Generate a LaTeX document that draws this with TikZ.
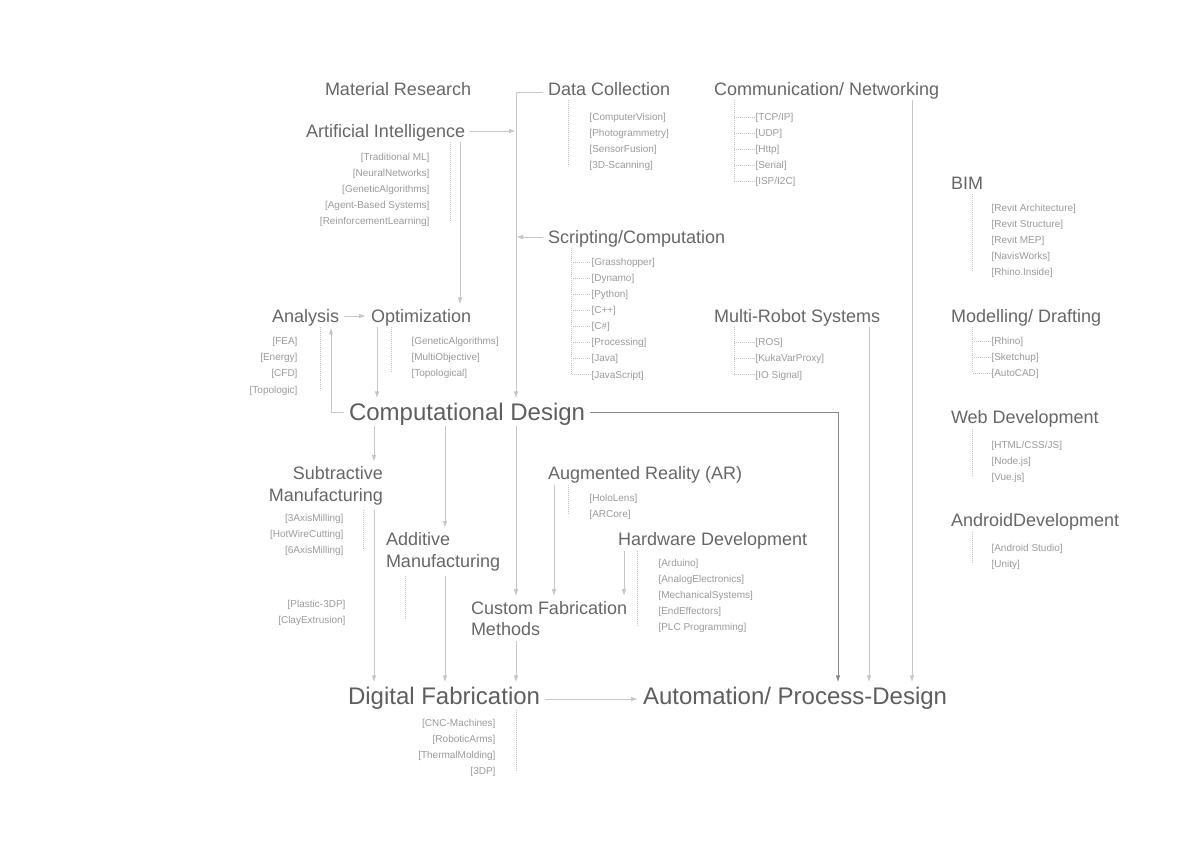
\documentclass[tikz,border=0pt]{standalone}
\usepackage{fontspec}
\setmainfont{Liberation Sans}
\usetikzlibrary{arrows.meta}

\definecolor{topicgray}{HTML}{666666}
\definecolor{hubgray}{HTML}{5E5E5E}
\definecolor{toolgray}{HTML}{9A9A9A}
\definecolor{linegray}{HTML}{C6C6C6}
\definecolor{darkline}{HTML}{8A8A8A}
\definecolor{railgray}{HTML}{C4C4C4}

\begin{document}
\begin{tikzpicture}[x=1pt, y=-1pt,
    topic/.style={font=\fontsize{18}{21.5}\selectfont, text=topicgray, inner sep=0pt, outer sep=5pt},
    head/.style={topic, text height=13pt, text depth=0pt},
    hub/.style={font=\fontsize{24}{28}\selectfont, text=hubgray, inner sep=0pt, outer sep=5pt, text height=17.2pt, text depth=0pt},
    tool/.style={font=\fontsize{10}{12}\selectfont, text=toolgray, inner sep=0pt, outer sep=0.5pt, text height=9.5pt, text depth=1.5pt},
    arrow/.style={-{Latex[length=7pt, width=4.5pt]}, line width=0.9pt, draw=linegray},
    rail/.style={dash pattern=on 1pt off 1pt, line width=0.6pt, draw=railgray}
]
\useasboundingbox (0,0) rectangle (1192,842);

% Topics
\node[head, anchor=west] (matres)     at (320,89)  {Material Research};
\node[head, anchor=west] (datacol)    at (543,89)  {Data Collection};
\node[head, anchor=west] (comm)       at (709,89)  {Communication/ Networking};
\node[head, anchor=west] (ai)         at (301,131) {Artificial Intelligence};
\node[head, anchor=west] (bim)        at (946,183) {BIM};
\node[head, anchor=west] (script)     at (543,237) {Scripting/Computation};
\node[head, anchor=west] (analysis)   at (267,316) {Analysis};
\node[head, anchor=west] (optim)      at (366,316) {Optimization};
\node[head, anchor=west] (multirobot) at (709,316) {Multi-Robot Systems};
\node[head, anchor=west] (modelling)  at (946,316) {Modelling/ Drafting};
\node[head, anchor=west] (web)        at (946,417) {Web Development};
\node[head, anchor=west] (android)    at (946,520) {AndroidDevelopment};
\node[head, anchor=west] (ar)         at (543,473) {Augmented Reality (AR)};
\node[head, anchor=west] (hw)         at (613,539) {Hardware Development};
\node[topic, anchor=east, align=right] (subtr)     at (388,486)   {Subtractive\\Manufacturing};
\node[topic, anchor=west, align=left]  (additive)  at (381,552)   {Additive\\Manufacturing};
\node[topic, anchor=west, align=left]  (customfab) at (466,618.5) {Custom Fabrication\\Methods};

% Hubs
\node[hub, anchor=west] (cd)     at (344,412) {Computational Design};
\node[hub, anchor=west] (digfab) at (343,696) {Digital Fabrication};
\node[hub, anchor=west] (auto)   at (638,696) {Automation/ Process-Design};

% Tools under each topic
\node[tool, anchor=east] (ai1) at (430,157) {[Traditional ML]};
\node[tool, anchor=east] (ai2) at (430,173) {[NeuralNetworks]};
\node[tool, anchor=east] (ai3) at (430,189) {[GeneticAlgorithms]};
\node[tool, anchor=east] (ai4) at (430,205) {[Agent-Based Systems]};
\node[tool, anchor=east] (ai5) at (430,221) {[ReinforcementLearning]};

\node[tool, anchor=west] (dc1) at (589,117) {[ComputerVision]};
\node[tool, anchor=west] (dc2) at (589,133) {[Photogrammetry]};
\node[tool, anchor=west] (dc3) at (589,149) {[SensorFusion]};
\node[tool, anchor=west] (dc4) at (589,165) {[3D-Scanning]};

\node[tool, anchor=west] (com1) at (755,117) {[TCP/IP]};
\node[tool, anchor=west] (com2) at (755,133) {[UDP]};
\node[tool, anchor=west] (com3) at (755,149) {[Http]};
\node[tool, anchor=west] (com4) at (755,165) {[Serial]};
\node[tool, anchor=west] (com5) at (755,181) {[ISP/I2C]};

\node[tool, anchor=west] (sc1) at (591,262) {[Grasshopper]};
\node[tool, anchor=west] (sc2) at (591,278) {[Dynamo]};
\node[tool, anchor=west] (sc3) at (591,294) {[Python]};
\node[tool, anchor=west] (sc4) at (591,310) {[C++]};
\node[tool, anchor=west] (sc5) at (591,326) {[C\#]};
\node[tool, anchor=west] (sc6) at (591,342) {[Processing]};
\node[tool, anchor=west] (sc7) at (591,358) {[Java]};
\node[tool, anchor=west] (sc8) at (591,374) {[JavaScript]};

\node[tool, anchor=west] (bim1) at (991,208) {[Revit Architecture]};
\node[tool, anchor=west] (bim2) at (991,224) {[Revit Structure]};
\node[tool, anchor=west] (bim3) at (991,240) {[Revit MEP]};
\node[tool, anchor=west] (bim4) at (991,256) {[NavisWorks]};
\node[tool, anchor=west] (bim5) at (991,272) {[Rhino.Inside]};

\node[tool, anchor=west] (mod1) at (991,341) {[Rhino]};
\node[tool, anchor=west] (mod2) at (991,357) {[Sketchup]};
\node[tool, anchor=west] (mod3) at (991,373) {[AutoCAD]};

\node[tool, anchor=west] (web1) at (991,444) {[HTML/CSS/JS]};
\node[tool, anchor=west] (web2) at (991,460) {[Node.js]};
\node[tool, anchor=west] (web3) at (991,476) {[Vue.js]};

\node[tool, anchor=west] (and1) at (991,547) {[Android Studio]};
\node[tool, anchor=west] (and2) at (991,563) {[Unity]};

\node[tool, anchor=east] (an1) at (298,341) {[FEA]};
\node[tool, anchor=east] (an2) at (298,357) {[Energy]};
\node[tool, anchor=east] (an3) at (298,373) {[CFD]};
\node[tool, anchor=east] (an4) at (298,389) {[Topologic]};

\node[tool, anchor=west] (op1) at (411,341) {[GeneticAlgorithms]};
\node[tool, anchor=west] (op2) at (411,357) {[MultiObjective]};
\node[tool, anchor=west] (op3) at (411,373) {[Topological]};

\node[tool, anchor=west] (mr1) at (755,342) {[ROS]};
\node[tool, anchor=west] (mr2) at (755,358) {[KukaVarProxy]};
\node[tool, anchor=west] (mr3) at (755,374) {[IO Signal]};

\node[tool, anchor=east] (sub1) at (344,517) {[3AxisMilling]};
\node[tool, anchor=east] (sub2) at (344,533) {[HotWireCutting]};
\node[tool, anchor=east] (sub3) at (344,549) {[6AxisMilling]};

\node[tool, anchor=east] (add1) at (346,603) {[Plastic-3DP]};
\node[tool, anchor=east] (add2) at (346,619) {[ClayExtrusion]};

\node[tool, anchor=west] (ar1) at (589,497) {[HoloLens]};
\node[tool, anchor=west] (ar2) at (589,513) {[ARCore]};

\node[tool, anchor=west] (hw1) at (658,562) {[Arduino]};
\node[tool, anchor=west] (hw2) at (658,578) {[AnalogElectronics]};
\node[tool, anchor=west] (hw3) at (658,594) {[MechanicalSystems]};
\node[tool, anchor=west] (hw4) at (658,610) {[EndEffectors]};
\node[tool, anchor=west] (hw5) at (658,626) {[PLC Programming]};

\node[tool, anchor=east] (df1) at (496,722) {[CNC-Machines]};
\node[tool, anchor=east] (df2) at (496,738) {[RoboticArms]};
\node[tool, anchor=east] (df3) at (496,754) {[ThermalMolding]};
\node[tool, anchor=east] (df4) at (496,770) {[3DP]};

% Dotted rails
\draw[rail] ([xshift=149pt]ai.south west) -- ([xshift=149pt]ai.south west |- ai5);
\draw[rail] ([xshift=25pt]datacol.south west) -- ([xshift=25pt]datacol.south west |- dc4);
\draw[rail] ([xshift=25pt]comm.south west) coordinate (commrail) |- (com5);
\draw[rail] (commrail |- com1) -- (com1);
\draw[rail] (commrail |- com2) -- (com2);
\draw[rail] (commrail |- com3) -- (com3);
\draw[rail] (commrail |- com4) -- (com4);
\draw[rail] ([xshift=28pt]script.south west) coordinate (scrail) |- (sc8);
\draw[rail] (scrail |- sc1) -- (sc1);
\draw[rail] (scrail |- sc2) -- (sc2);
\draw[rail] (scrail |- sc3) -- (sc3);
\draw[rail] (scrail |- sc4) -- (sc4);
\draw[rail] (scrail |- sc5) -- (sc5);
\draw[rail] (scrail |- sc6) -- (sc6);
\draw[rail] (scrail |- sc7) -- (sc7);
\draw[rail] ([xshift=26pt]bim.south west) -- ([xshift=26pt]bim.south west |- bim5);
\draw[rail] ([xshift=26pt]modelling.south west) coordinate (modrail) |- (mod3);
\draw[rail] (modrail |- mod1) -- (mod1);
\draw[rail] (modrail |- mod2) -- (mod2);
\draw[rail] ([xshift=26pt]web.south west) -- ([xshift=26pt]web.south west |- web3);
\draw[rail] ([xshift=26pt]android.south west) -- ([xshift=26pt]android.south west |- and2);
\draw[rail] ([xshift=53pt]analysis.south west) -- ([xshift=53pt]analysis.south west |- an4);
\draw[rail] ([xshift=25pt]optim.south west) -- ([xshift=25pt]optim.south west |- op3);
\draw[rail] ([xshift=25pt]multirobot.south west) coordinate (mrrail) |- (mr3);
\draw[rail] (mrrail |- mr1) -- (mr1);
\draw[rail] (mrrail |- mr2) -- (mr2);
\draw[rail] ([xshift=-25pt]subtr.south east) -- ([xshift=-25pt]subtr.south east |- sub3);
\draw[rail] ([xshift=24pt]additive.south west) -- ([xshift=24pt]additive.south west |- add2);
\draw[rail] ([xshift=25pt]ar.south west) -- ([xshift=25pt]ar.south west |- ar2);
\draw[rail] ([xshift=24pt]hw.south west) -- ([xshift=24pt]hw.south west |- hw5);
\draw[rail] ([xshift=173pt]digfab.south west) -- ([xshift=173pt]digfab.south west |- df4);

% Arrows into Computational Design
\coordinate (trunk) at (516,0);
\draw[arrow] ([yshift=-3pt]datacol.west) -| (trunk |- cd.north);
\draw[arrow] (ai) -- (ai -| trunk);
\draw[arrow] (script) -- (script -| trunk);
\draw[arrow] ([xshift=159pt]ai.south west) -- ([xshift=159pt]ai.south west |- optim.north);
\draw[arrow] (analysis) -- (optim);
\draw[arrow] ([xshift=11pt]optim.south west) -- ([xshift=11pt]optim.south west |- cd.north);
\draw[arrow] (cd.west) -| ([xshift=64pt]analysis.south west);

% Arrows out of Computational Design
\draw[arrow] ([xshift=30pt]cd.south west) -- ([xshift=30pt]cd.south west |- subtr.north);
\draw[arrow] ([xshift=101pt]cd.south west) -- ([xshift=101pt]cd.south west |- additive.north);
\draw[arrow] (cd.south -| trunk) -- (trunk |- customfab.north);
\draw[arrow, draw=darkline] (cd.east) -| ([xshift=200pt]auto.north west);

% Into Custom Fabrication and Digital Fabrication
\draw[arrow] ([xshift=11pt]ar.south west) -- ([xshift=11pt]ar.south west |- customfab.north);
\draw[arrow] ([xshift=11pt]hw.south west) -- ([xshift=11pt]hw.south west |- customfab.north);
\draw[arrow] ([xshift=-14pt]subtr.south east) -- ([xshift=-14pt]subtr.south east |- digfab.north);
\draw[arrow] ([xshift=64pt]additive.south west) -- ([xshift=64pt]additive.south west |- digfab.north);
\draw[arrow] (customfab.south -| trunk) -- (trunk |- digfab.north);

% Into Automation
\draw[arrow] ([yshift=-3pt]digfab.east) -- ([yshift=-3pt]auto.west);
\draw[arrow] ([xshift=160pt]multirobot.south west) -- ([xshift=160pt]multirobot.south west |- auto.north);
\draw[arrow] ([xshift=203pt]comm.south west) -- ([xshift=203pt]comm.south west |- auto.north);

\end{tikzpicture}
\end{document}
